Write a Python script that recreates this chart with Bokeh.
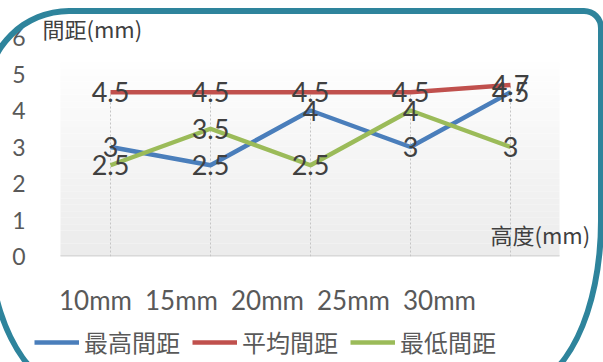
import numpy as np
from bokeh.plotting import figure
from bokeh.layouts import column
from bokeh.models import (ColumnDataSource, Range1d, LinearAxis, FixedTicker, LabelSet,
                          Label, Legend, LegendItem, InlineStyleSheet)
from bokeh.core.properties import value
from bokeh.embed import file_html
from bokeh.resources import INLINE

# ---- data ----
categories = ["10mm", "15mm", "20mm", "25mm", "30mm"]
max_gap = [3, 2.5, 4, 3, 4.5]
avg_gap = [4.5, 4.5, 4.5, 4.5, 4.7]
min_gap = [2.5, 3.5, 2.5, 4, 3]
series_names = ["最高間距", "平均間距", "最低間距"]
y_ticks = [0, 1, 2, 3, 4, 5, 6]
y_title = "間距(mm)"
x_title = "高度(mm)"

CJK = "Noto Sans CJK TC"
NUM = "Lato"
colors = ["#4a7ebb", "#c0504d", "#9bbb59"]
series = [max_gap, avg_gap, min_gap]

W, H1, H2 = 603, 318, 44
# frame: x 30..601, y 2..256 (px); 100 px per category, 36.5 px per unit
p = figure(width=W, height=H1, output_backend="svg", toolbar_location=None,
           x_range=Range1d(-0.8, 4.91), y_range=Range1d(0, 254 / 36.5),
           x_axis_location=None, title=None,
           min_border_left=30, min_border_right=2, min_border_top=2, min_border_bottom=62)
p.outline_line_color = None
p.background_fill_color = "white"
p.border_fill_color = "white"
p.xgrid.visible = False
p.ygrid.visible = False

# plot-area gradient background
nb = 30
edges = np.linspace(0, 5.32, nb + 1)
shades = np.linspace(0xec, 0xfe, nb)
band_colors = ["#%02x%02x%02x" % (int(s), int(s), int(s)) for s in shades]
p.quad(left=-0.5, right=4.49, bottom=edges[:-1], top=edges[1:],
       fill_color=band_colors, line_color=None)
p.segment(x0=[-0.5], y0=[0], x1=[4.49], y1=[0], line_color="#d9d9d9", line_width=3)

x = np.arange(len(categories))
tops = np.max(np.array(series), axis=0)
p.segment(x0=x, y0=0, x1=x, y1=tops, line_color="#c4c4c4", line_dash="2 2", line_width=1)

for vals, c in zip(series, colors):
    p.line(x, vals, line_color=c, line_width=4.5)

for vals in series:
    src = ColumnDataSource(dict(x=x, y=vals, t=[f"{v:g}" for v in vals]))
    p.add_layout(LabelSet(x="x", y="y", text="t", source=src, text_align="center",
                          text_baseline="middle", text_font=value(NUM),
                          text_font_size="27px", text_color="#404040"))

# y axis
p.yaxis.ticker = FixedTicker(ticks=y_ticks)
p.yaxis.axis_line_color = None
p.yaxis.major_tick_line_color = None
p.yaxis.minor_tick_line_color = None
p.yaxis.major_tick_out = 0
p.yaxis.major_tick_in = 0
p.yaxis.major_label_standoff = 5
p.yaxis.major_label_text_font = NUM
p.yaxis.major_label_text_font_size = "23px"
p.yaxis.major_label_text_color = "#595959"

# category axis (labels spaced 86 px, starting at x=95 px)
p.extra_x_ranges = {"lab": Range1d((30 - 95) / 86, (601 - 95) / 86)}
ax = LinearAxis(x_range_name="lab", ticker=FixedTicker(ticks=list(range(len(categories)))),
                major_label_overrides={i: c for i, c in enumerate(categories)},
                axis_line_color=None, major_tick_out=0, major_tick_in=0,
                major_tick_line_color=None, minor_tick_line_color=None,
                major_label_standoff=27, major_label_text_font=NUM,
                major_label_text_font_size="26px", major_label_text_color="#595959")
p.add_layout(ax, "below")

p.add_layout(Label(x=-0.68, y=6.25, text=y_title, text_font=CJK, text_font_size="22px",
                   text_baseline="middle", text_color="#404040"))
p.add_layout(Label(x=3.8, y=0.63, text=x_title, text_font=CJK, text_font_size="22px",
                   text_baseline="middle", text_color="#404040"))

# legend strip (series drawn outside its visible range; only the legend shows)
q = figure(width=W, height=H2, output_backend="svg", toolbar_location=None,
           x_range=Range1d(0, 1), y_range=Range1d(100, 101),
           x_axis_location=None, y_axis_location=None, title=None,
           min_border_left=0, min_border_right=0, min_border_top=0, min_border_bottom=0)
q.outline_line_color = None
q.xgrid.visible = False
q.ygrid.visible = False
rs = [q.line(x, vals, line_color=c, line_width=4.5) for vals, c in zip(series, colors)]
legend = Legend(items=[LegendItem(label=n, renderers=[r]) for n, r in zip(series_names, rs)],
                orientation="horizontal", location=(4, 3), glyph_width=45, glyph_height=28,
                label_standoff=5, spacing=12, padding=0, margin=0,
                border_line_color=None, background_fill_alpha=0,
                label_text_font=CJK, label_text_font_size="24px",
                label_text_color="#595959")
q.add_layout(legend)

layout = column(p, q, spacing=0)
css = """
:host { position: relative; overflow: hidden; }
:host::after {
  content: ""; position: absolute; left: -16px; top: 8px; width: 620px; height: 381px;
  box-sizing: border-box; border: 6px solid #2e849c;
  border-radius: 85px 20px 84px 84px / 85px 20px 168px 168px;
  pointer-events: none; z-index: 10;
}
"""
layout.stylesheets = [InlineStyleSheet(css=css)]

open("out.html", "w").write(file_html(layout, INLINE))
